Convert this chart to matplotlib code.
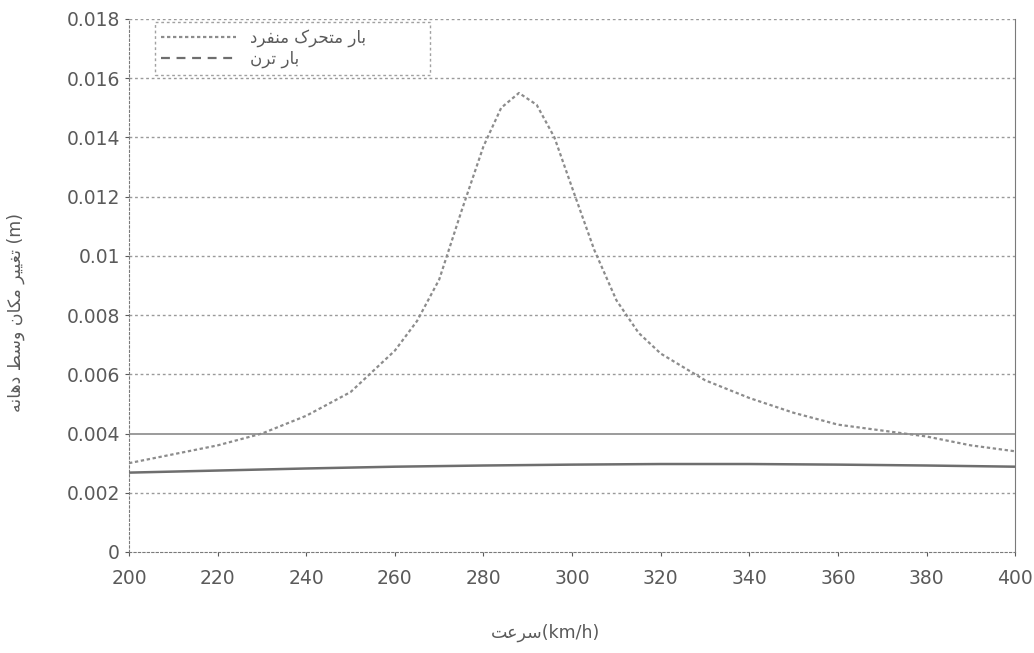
import matplotlib.pyplot as plt
from matplotlib.lines import Line2D

# speed (km/h) and mid-span displacement (m)
speed_single = [200, 210, 220, 230, 240, 250, 260, 265, 270, 275, 280, 284, 288,
                292, 296, 300, 305, 310, 315, 320, 330, 340, 350, 360, 370, 380,
                390, 400]
disp_single = [0.0030, 0.0033, 0.0036, 0.0040, 0.0046, 0.0054, 0.0068, 0.0078,
               0.0092, 0.0115, 0.0137, 0.0150, 0.0155, 0.0151, 0.0140, 0.0123,
               0.0102, 0.0085, 0.0074, 0.0067, 0.0058, 0.0052, 0.0047, 0.0043,
               0.0041, 0.0039, 0.0036, 0.0034]

speed_train = [200, 220, 240, 260, 280, 300, 320, 340, 360, 380, 400]
disp_train = [0.00268, 0.00275, 0.00282, 0.00288, 0.00292, 0.00295, 0.00297,
              0.00297, 0.00295, 0.00292, 0.00288]

y_ticks = [0, 0.002, 0.004, 0.006, 0.008, 0.01, 0.012, 0.014, 0.016, 0.018]
y_labels = ["0", "0.002", "0.004", "0.006", "0.008", "0.01", "0.012", "0.014",
            "0.016", "0.018"]
x_ticks = list(range(200, 401, 20))

label_single = "بار متحرک منفرد"
label_train = "بار ترن"
x_title = "سرعت"
y_title = "تغییر مکان وسط دهانه"

# very small Persian shaper: (isolated, final, initial, medial)
FORMS = {
    "ا": (0xFE8D, 0xFE8E, None, None),
    "ب": (0xFE8F, 0xFE90, 0xFE91, 0xFE92),
    "ت": (0xFE95, 0xFE96, 0xFE97, 0xFE98),
    "ح": (0xFEA1, 0xFEA2, 0xFEA3, 0xFEA4),
    "د": (0xFEA9, 0xFEAA, None, None),
    "ر": (0xFEAD, 0xFEAE, None, None),
    "س": (0xFEB1, 0xFEB2, 0xFEB3, 0xFEB4),
    "ط": (0xFEC1, 0xFEC2, 0xFEC3, 0xFEC4),
    "ع": (0xFEC9, 0xFECA, 0xFECB, 0xFECC),
    "غ": (0xFECD, 0xFECE, 0xFECF, 0xFED0),
    "ف": (0xFED1, 0xFED2, 0xFED3, 0xFED4),
    "م": (0xFEE1, 0xFEE2, 0xFEE3, 0xFEE4),
    "ن": (0xFEE5, 0xFEE6, 0xFEE7, 0xFEE8),
    "ه": (0xFEE9, 0xFEEA, 0xFEEB, 0xFEEC),
    "و": (0xFEED, 0xFEEE, None, None),
    "ی": (0xFBFC, 0xFBFD, 0xFBFE, 0xFBFF),
    "ک": (0xFB8E, 0xFB8F, 0xFB90, 0xFB91),
}


def shape(text):
    out = []
    for i, ch in enumerate(text):
        if ch not in FORMS:
            out.append(ch)
            continue
        prev = text[i - 1] if i > 0 else " "
        nxt = text[i + 1] if i < len(text) - 1 else " "
        join_prev = prev in FORMS and FORMS[prev][2] is not None
        join_next = nxt in FORMS and FORMS[ch][2] is not None
        iso, fin, ini, med = FORMS[ch]
        if join_prev and join_next:
            code = med
        elif join_prev:
            code = fin
        elif join_next:
            code = ini
        else:
            code = iso
        out.append(chr(code))
    return "".join(out[::-1])


plt.rcParams['font.family'] = ['DejaVu Sans']
grey = "#5a5a5a"

fig = plt.figure(figsize=(10.34, 6.53), dpi=100)
ax = fig.add_axes([0.1248, 0.1547, 0.857, 0.8163])

for y in y_ticks[1:]:
    if y == 0.004:
        ax.axhline(y, color="#8a8a8a", lw=1.2, zorder=1)
    else:
        ax.axhline(y, color="#9a9a9a", lw=1.0, ls=(0, (2, 2)), zorder=1)

ax.plot(speed_single, disp_single, color="#8c8c8c", lw=1.6, ls=(0, (1.5, 1.2)),
        zorder=3)
ax.plot(speed_train, disp_train, color="#6e6e6e", lw=1.8, zorder=3)

ax.set_xlim(200, 400)
ax.set_ylim(0, 0.018)
ax.set_xticks(x_ticks)
ax.set_yticks(y_ticks)
ax.set_yticklabels(y_labels)
ax.tick_params(colors=grey, labelsize=13.5, length=3, width=0.8)
ax.tick_params(axis="x", pad=9)

for side in ["left", "bottom"]:
    ax.spines[side].set_linestyle((0, (2, 2)))
    ax.spines[side].set_color("#7a7a7a")
ax.spines["top"].set_visible(False)
ax.spines["right"].set_color("#7a7a7a")

ax.set_xlabel(shape(x_title) + "(km/h)", color=grey, fontsize=12.5)
ax.xaxis.set_label_coords(0.47, -0.135)
ax.set_ylabel(shape(y_title) + " (m)", color=grey, fontsize=12.5)
ax.yaxis.set_label_coords(-0.117, 0.45)

handles = [Line2D([], [], color="#8c8c8c", lw=1.6, ls=(0, (1.5, 1.2))),
           Line2D([], [], color="#6e6e6e", lw=1.6, ls=(0, (4, 3)))]
leg = ax.legend(handles, [shape(label_single), shape(label_train)],
                bbox_to_anchor=(0.029, 0.891, 0.311, 0.103), loc="upper left",
                mode="expand", handlelength=4.5, labelspacing=0.15,
                borderaxespad=0, fancybox=False, prop={'size': 12})
leg.get_frame().set_edgecolor("#8a8a8a")
leg.get_frame().set_linestyle((0, (2, 2)))
for t in leg.get_texts():
    t.set_color(grey)

fig.savefig("out.png", dpi=100)
